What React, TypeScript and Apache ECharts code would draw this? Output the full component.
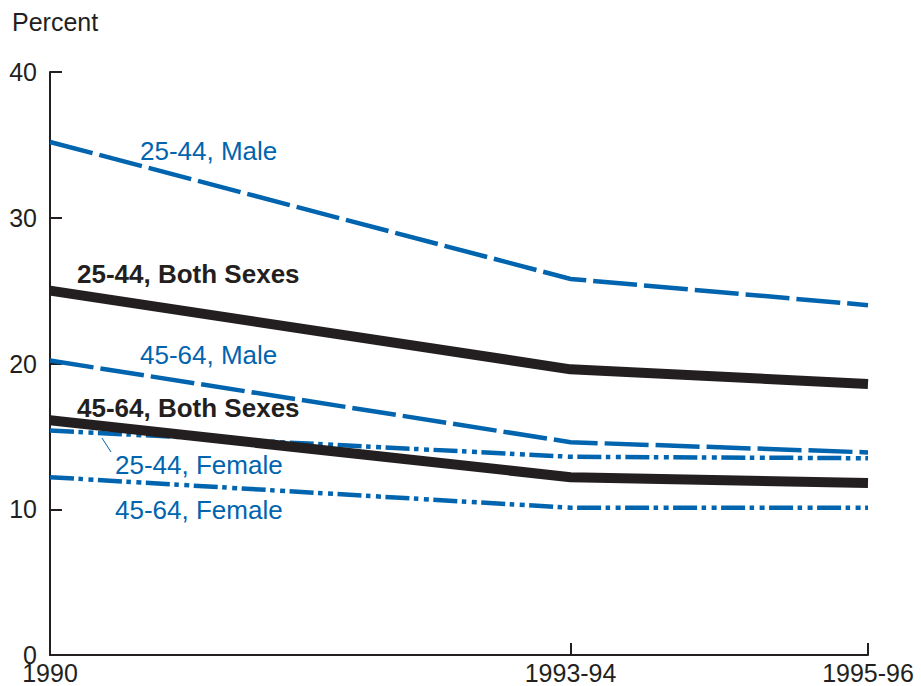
import React, { useEffect, useRef } from "react";
import * as echarts from "echarts";

const xPositions = [1990, 1993.5, 1995.5];
const xLabels = ["1990", "1993-94", "1995-96"];

const male2544 = [35.2, 25.8, 24.0];
const both2544 = [25.0, 19.6, 18.6];
const male4564 = [20.2, 14.6, 13.9];
const both4564 = [16.1, 12.2, 11.8];
const female2544 = [15.4, 13.6, 13.5];
const female4564 = [12.2, 10.1, 10.1];

const BLUE = "#0064ae";
const BLACK = "#231f20";
const FONT = "'Liberation Sans', Arial, sans-serif";

const toPoints = (vals: number[]) => vals.map((v, i) => [xPositions[i], v]);

export default function App() {
  const ref = useRef<HTMLDivElement>(null);
  useEffect(() => {
    if (!ref.current) return;
    const chart = echarts.init(ref.current, null, { renderer: "svg" });
    const dashed = [44, 7];
    const dashDotDot = [24, 4.5, 4.5, 5.5, 5, 4.5];
    const blueLine = (name: string, vals: number[], type: number[]) => ({
      name,
      type: "line",
      data: toPoints(vals),
      symbol: "none",
      lineStyle: { color: BLUE, width: 4.5, type, cap: "butt", join: "miter" },
      z: 2,
    });
    const blackLine = (name: string, vals: number[]) => ({
      name,
      type: "line",
      data: toPoints(vals),
      symbol: "none",
      lineStyle: { color: BLACK, width: 10, type: "solid", cap: "butt", join: "round" },
      z: 3,
    });
    const label = (text: string, x: number, y: number, bold: boolean, color: string) => ({
      type: "text",
      left: x,
      top: y - 13,
      z: 10,
      style: {
        text,
        fill: color,
        font: `${bold ? "bold " : ""}26px ${FONT}`,
      },
    });
    chart.setOption({
      animation: false,
      backgroundColor: "#ffffff",
      grid: { left: 50, right: 53, top: 72, bottom: 31, containLabel: false, outerBoundsMode: "none" },
      xAxis: {
        type: "value",
        min: 1990,
        max: 1995.5,
        axisLine: { show: true, lineStyle: { color: BLACK, width: 2 } },
        axisTick: {
          show: true,
          inside: true,
          length: 12,
          lineStyle: { color: BLACK, width: 2 },
          customValues: xPositions,
        },
        axisLabel: {
          color: BLACK,
          fontFamily: FONT,
          fontSize: 25,
          margin: 5,
          customValues: xPositions,
          formatter: (v: number) => {
            const i = xPositions.indexOf(v);
            return i >= 0 ? xLabels[i] : "";
          },
        },
        splitLine: { show: false },
      },
      yAxis: {
        type: "value",
        min: 0,
        max: 40,
        interval: 10,
        axisLine: { show: true, lineStyle: { color: BLACK, width: 2 } },
        axisTick: { show: true, inside: true, length: 12, lineStyle: { color: BLACK, width: 2 } },
        axisLabel: { color: BLACK, fontFamily: FONT, fontSize: 25, margin: 13 },
        splitLine: { show: false },
      },
      series: [
        blueLine("25-44, Male", male2544, dashed),
        blueLine("45-64, Male", male4564, dashed),
        blueLine("25-44, Female", female2544, dashDotDot),
        blueLine("45-64, Female", female4564, dashDotDot),
        blackLine("25-44, Both Sexes", both2544),
        blackLine("45-64, Both Sexes", both4564),
      ],
      graphic: [
        {
          type: "text",
          left: 12,
          top: 9,
          style: { text: "Percent", fill: BLACK, font: `25px ${FONT}` },
        },
        label("25-44, Male", 140, 151, false, BLUE),
        label("25-44, Both Sexes", 77, 274, true, BLACK),
        label("45-64, Male", 140, 355, false, BLUE),
        label("45-64, Both Sexes", 77, 408, true, BLACK),
        label("25-44, Female", 115, 465, false, BLUE),
        label("45-64, Female", 115, 510, false, BLUE),
        {
          type: "line",
          z: 10,
          shape: { x1: 102, y1: 438, x2: 111, y2: 452 },
          style: { stroke: BLUE, lineWidth: 1 },
        },
      ],
    });
    return () => chart.dispose();
  }, []);
  return (
    <div
      ref={ref}
      style={{ position: "fixed", left: 0, top: 0, width: 921, height: 686, background: "#fff" }}
    />
  );
}
